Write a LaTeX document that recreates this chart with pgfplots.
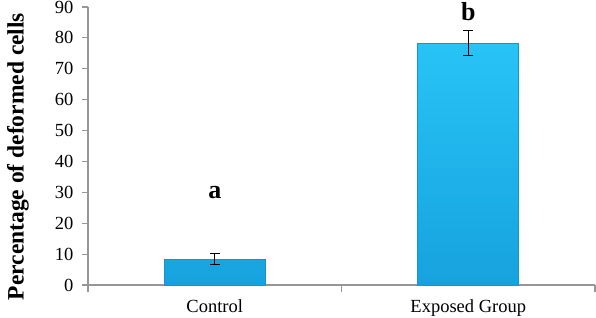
\documentclass[border=0pt]{standalone}
\usepackage{pgfplots}
\pgfplotsset{compat=1.18}
\usepackage{fontspec}
\setmainfont{Liberation Serif}
\definecolor{bartop}{RGB}{40,196,246}
\definecolor{barbot}{RGB}{22,162,222}
\definecolor{barline}{RGB}{20,150,205}
\definecolor{axisgray}{RGB}{150,150,150}
\begin{document}
\begin{tikzpicture}
\begin{axis}[
 at={(88pt,32pt)}, anchor=south west,
 scale only axis, width=507pt, height=278pt,
 xmin=-0.5, xmax=1.5, ymin=0, ymax=90,
 ytick={0,10,...,90},
 xtick={0,1}, xticklabels={Control, Exposed Group},
 minor xtick={-0.5,0.5,1.5},
 axis lines*=left,
 axis line style={axisgray, line width=1.2pt},
 tick align=outside,
 major tick length=6pt, minor tick length=7pt,
 tick style={axisgray, line width=1.2pt},
 major x tick style={draw=none},
 ticklabel style={font=\fontsize{18.5}{18.5}\selectfont},
 yticklabel style={xshift=-5pt},
 xticklabel style={yshift=-5pt},
 /pgf/number format/assume math mode=true,
 ylabel={\textbf{Percentage of deformed cells}},
 ylabel style={font=\fontsize{23.5}{23.5}\selectfont, at={(axis description cs:-0.138,0.462)}, anchor=center},
 clip=false,
]
\addplot[ybar, bar width=101pt, top color=bartop, bottom color=barbot, draw=barline, line width=0.6pt,
  error bars/.cd, y dir=both, y explicit,
  error bar style={black, line width=1pt},
  error mark options={black, line width=1pt, mark size=5pt, rotate=90}]
  coordinates {(0,8.3) +- (0,1.8) (1,78.3) +- (0,4.0)};
\node[font=\bfseries\fontsize{26}{26}\selectfont] at (axis cs:0,30) {a};
\node[font=\bfseries\fontsize{26}{26}\selectfont] at (axis cs:1,88.5) {b};
\end{axis}
\pgfresetboundingbox
\path (0,0) rectangle (596pt,317pt);
\end{tikzpicture}
\end{document}
